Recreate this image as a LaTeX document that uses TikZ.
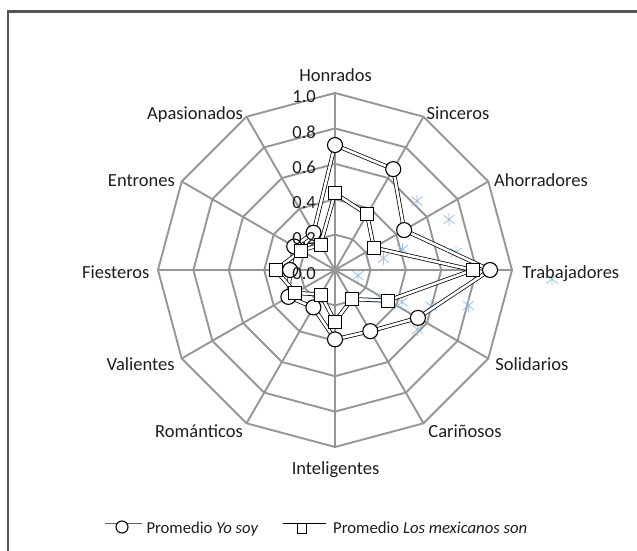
\documentclass[tikz,border=0pt]{standalone}
\usepackage{fontspec}
\setmainfont{Carlito}
\definecolor{gridgray}{HTML}{969696}
\definecolor{framegray}{HTML}{555555}
\definecolor{txt}{HTML}{1E1E1E}
\definecolor{astblue}{HTML}{9DBFE8}
\tikzset{
  grid/.style={draw=gridgray, line width=1.9pt, line join=miter},
  series/.style={draw=black, line width=0.75pt, double=white, double distance=2.6pt, line join=round},
  circmark/.style={circle, draw=black, line width=1.1pt, fill=white, minimum size=15pt, inner sep=0pt},
  sqmark/.style={rectangle, draw=black, line width=0.8pt, fill=white, minimum size=13pt, inner sep=0pt},
  axlabel/.style={anchor=base, inner sep=0pt, text=txt, font=\fontsize{18.5}{22}\selectfont},
  ticklabel/.style={anchor=base east, inner sep=0pt, text=txt, font=\fontsize{18.5}{22}\selectfont},
  legtext/.style={anchor=base west, inner sep=0pt, text=txt, font=\fontsize{16.7}{20}\selectfont},
  astmark/.style={draw=astblue, line width=0.8pt},
}
\begin{document}
\begin{tikzpicture}[x=1pt,y=-1pt]
\useasboundingbox (0,0) rectangle (637,551);
% frame
\draw[framegray, line width=2.4pt] (8,560) -- (8,11.5) -- (650,11.5);
% radar grid
\begin{scope}[shift={(335,270)}]
  \coordinate (C) at (0,0);
  \foreach \k in {0,...,11} \coordinate (v\k) at ({30*\k-90}:177);
  \foreach \i in {1,...,5}
    \draw[grid] ({-90}:{35.4*\i}) \foreach \a in {30,60,...,330}{ -- ({\a-90}:{35.4*\i})} -- cycle;
  \foreach \k in {0,...,11} \draw[grid] (C) -- (v\k);
  % data
  \foreach \k/\v in {0/0.706,1/0.658,2/0.451,3/0.876,4/0.541,5/0.399,6/0.392,7/0.244,8/0.304,9/0.254,10/0.266,11/0.243}
    \coordinate (a\k) at ({30*\k-90}:{\v*177});
  \foreach \k/\v in {0/0.433,1/0.363,2/0.253,3/0.778,4/0.346,5/0.190,6/0.292,7/0.160,8/0.259,9/0.335,10/0.220,11/0.165}
    \coordinate (b\k) at ({30*\k-90}:{\v*177});
\end{scope}
% asterisk markers
\foreach \px/\py in {417/201,449/219.5,402.5/249.5,383.5/258.3,456/252.5,358/275.5,552/279,380/298,402/302,431/306,468.5/305.5,417.5/329.5}
  \draw[astmark] (\px,\py) +(0,-6.5) -- +(0,6.5) +(-5.5,-4.5) -- +(5.5,4.5) +(-5.5,4.5) -- +(5.5,-4.5);
% series lines
\draw[series] (a0) -- (a1) -- (a2) -- (a3) -- (a4) -- (a5) -- (a6) -- (a7) -- (a8) -- (a9) -- (a10) -- (a11) -- cycle;
\draw[series] (b0) -- (b1) -- (b2) -- (b3) -- (b4) -- (b5) -- (b6) -- (b7) -- (b8) -- (b9) -- (b10) -- (b11) -- cycle;
\foreach \k in {0,...,11} \node[circmark] (ma\k) at (a\k) {};
\foreach \k in {0,...,11} \node[sqmark] (mb\k) at (b\k) {};
% tick labels (drawn over the series)
\foreach \i/\t in {0/0.0,1/0.2,2/0.4,3/0.6,4/0.8,5/1.0}
  \node[ticklabel] (t\i) at (316,{270-35.4*\i+9.7}) {\t};
% axis labels
\node[axlabel] (l0) at (335.6,81.8) {Honrados};
\node[axlabel] (l1) at (458,119.3) {Sinceros};
\node[axlabel] (l2) at (541,186.3) {Ahorradores};
\node[axlabel] (l3) at (570.8,278.3) {Trabajadores};
\node[axlabel] (l4) at (532,370.7) {Solidarios};
\node[axlabel] (l5) at (465,437.8) {Cariñosos};
\node[axlabel] (l6) at (335.6,474.7) {Inteligentes};
\node[axlabel] (l7) at (199,437.8) {Románticos};
\node[axlabel] (l8) at (140.6,370.7) {Valientes};
\node[axlabel] (l9) at (115.8,278.3) {Fiesteros};
\node[axlabel] (l10) at (141.4,186.3) {Entrones};
\node[axlabel] (l11) at (195,119.3) {Apasionados};
% legend
\coordinate (lg1a) at (104.8,523.5);
\coordinate (lg1b) at (142.2,523.5);
\draw[gray!80!black, line width=0.9pt] (lg1a) -- (lg1b);
\node[circle, draw=black, line width=1.1pt, fill=white, minimum size=12pt, inner sep=0pt] (lgc) at (122,527) {};
\node[legtext] (lgt1) at (146.3,533) {Promedio \textit{Yo soy}};
\coordinate (lg2a) at (283,523.5);
\coordinate (lg2b) at (326,523.5);
\draw[black, line width=1.1pt] (lg2a) -- (lg2b);
\node[rectangle, draw=black, line width=0.8pt, fill=white, minimum width=9pt, minimum height=10pt, inner sep=0pt] (lgs) at (302,528.3) {};
\node[legtext] (lgt2) at (333,533) {Promedio \textit{Los mexicanos son}};
\end{tikzpicture}
\end{document}
